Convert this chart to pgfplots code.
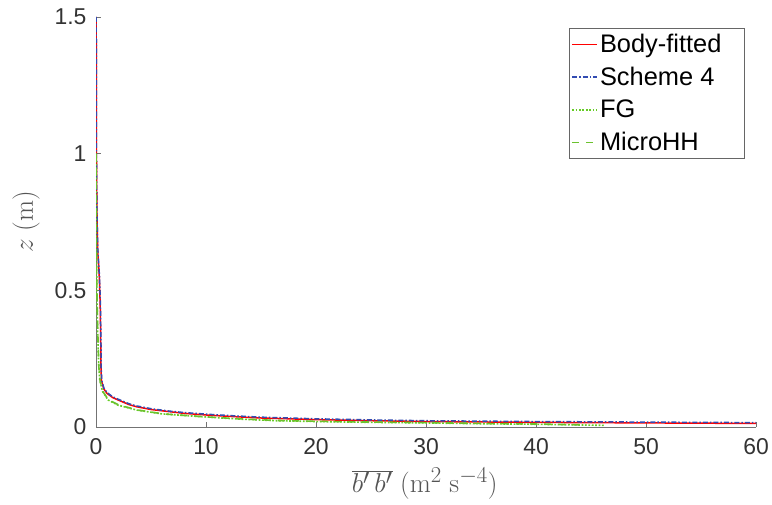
\documentclass[border=0pt]{standalone}
\usepackage[no-math]{fontspec}
\setmainfont{Liberation Sans}
\usepackage{graphicx}
\usepackage{pgfplots}
\pgfplotsset{compat=1.18}
\definecolor{tickgray}{gray}{0.2}
\definecolor{axgray}{gray}{0.45}
\definecolor{labgray}{gray}{0.33}
\definecolor{mred}{rgb}{1,0,0}
\definecolor{mblue}{rgb}{0.2,0.3,0.7}
\definecolor{mgreen}{rgb}{0.42,0.76,0.18}
\definecolor{mgreen2}{rgb}{0.4,0.8,0.15}
\tikzset{
  sRed/.style={color=mred, solid, line width=1.5bp},
  sBlue/.style={color=mblue, dash pattern=on 5bp off 2bp on 1.5bp off 2bp, line width=1.5bp},
  sFG/.style={color=mgreen2, dash pattern=on 1.8bp off 1.6bp, line width=1.6bp},
  sMH/.style={color=mgreen, dash pattern=on 7bp off 7bp, line width=1.6bp},
}
\begin{document}
\begin{tikzpicture}[x=1bp,y=1bp]
\begin{axis}[
  scale only axis,
  width=660bp, height=410bp,
  xmin=0, xmax=60, ymin=0, ymax=1.5,
  axis x line*=bottom, axis y line*=left,
  axis line style={axgray, line width=0.7bp},
  xtick={0,10,...,60}, ytick={0,0.5,1,1.5},
  yticklabels={0,0.5,1,1.5},
  tick align=inside, major tick length=5bp,
  tick style={axgray, line width=0.7bp},
  /pgf/number format/assume math mode=true,
  ticklabel style={font=\fontsize{23}{27}\selectfont, text=tickgray},
  xticklabel shift=8bp, yticklabel shift=6bp,
  xlabel={\scalebox{1.1}{$\overline{b'\,b'}\;(\mathrm{m}^2\ \mathrm{s}^{-4})$}},
  ylabel={\scalebox{1.1}{$z\;(\mathrm{m})$}},
  every axis x label/.style={at={(axis description cs:0.498,-0.139)}, anchor=center, font=\Huge, text=labgray},
  every axis y label/.style={at={(axis description cs:-0.106,0.5)}, anchor=center, rotate=90, font=\Huge, text=labgray},
  legend style={at={(0.983,0.973)}, anchor=north east, draw=gray!80!black, line width=0.6bp,
    font=\fontsize{25.5}{29}\selectfont, row sep=9bp, inner xsep=2bp, inner ysep=4bp},
  legend cell align=left,
  legend image code/.code={\draw[#1] (0bp,0bp) -- (25bp,0bp);},
]
\addlegendimage{sRed}
\addlegendimage{sBlue}
\addlegendimage{sFG}
\addlegendimage{sMH}
\addplot[sRed, forget plot] coordinates {
(0.02,1.5)(0.03,1.2)(0.04,1.0)(0.08,0.8)(0.15,0.65)(0.3,0.55)(0.38,0.45)(0.42,0.35)(0.44,0.28)(0.45,0.22)(0.5,0.17)(0.7,0.14)(1.0,0.123)(1.5,0.108)(2.0,0.099)(3.0,0.082)(3.7,0.074)(5,0.064)(6.7,0.056)(8,0.05)(10,0.044)(12.5,0.038)(15,0.033)(20,0.027)(25,0.023)(30,0.020)(40,0.017)(50,0.015)(60,0.013)};
\addplot[sBlue, forget plot] coordinates {
(0.02,1.5)(0.03,1.2)(0.04,1.0)(0.08,0.8)(0.16,0.65)(0.32,0.55)(0.4,0.45)(0.44,0.35)(0.46,0.28)(0.47,0.22)(0.52,0.17)(0.72,0.142)(1.0,0.126)(1.5,0.111)(2.0,0.102)(3.0,0.085)(3.7,0.077)(5,0.067)(6.7,0.058)(8,0.053)(10,0.047)(12.5,0.041)(15,0.036)(20,0.030)(25,0.026)(30,0.023)(40,0.020)(50,0.018)(60,0.016)};
\addplot[sFG, forget plot] coordinates {
(0.0,1.0)(0.02,0.8)(0.05,0.6)(0.08,0.5)(0.15,0.35)(0.25,0.22)(0.35,0.17)(0.6,0.13)(1.1,0.099)(2,0.08)(3.7,0.062)(6,0.048)(9.5,0.038)(13,0.029)(16.4,0.023)(20,0.020)(25,0.017)(30,0.015)(35,0.012)(40,0.010)(46.3,0.006)};
\addplot[sMH, forget plot] coordinates {
(0.0,1.0)(0.02,0.8)(0.05,0.6)(0.09,0.5)(0.16,0.35)(0.26,0.22)(0.37,0.17)(0.62,0.13)(1.15,0.099)(2.1,0.08)(3.8,0.062)(6.1,0.048)(9.6,0.038)(13,0.030)(16.4,0.024)(20,0.021)(25,0.018)(30,0.016)(35,0.013)(40,0.011)(44,0.008)};
\legend{Body-fitted\hspace*{19bp}\null,Scheme 4,FG,MicroHH}
\coordinate (bl) at (rel axis cs:0,0);
\coordinate (tr) at (rel axis cs:1,1);
\end{axis}
\pgfresetboundingbox
\useasboundingbox ([shift={(-96bp,-77bp)}]bl) rectangle ([shift={(16bp,17bp)}]tr);
\end{tikzpicture}
\end{document}
